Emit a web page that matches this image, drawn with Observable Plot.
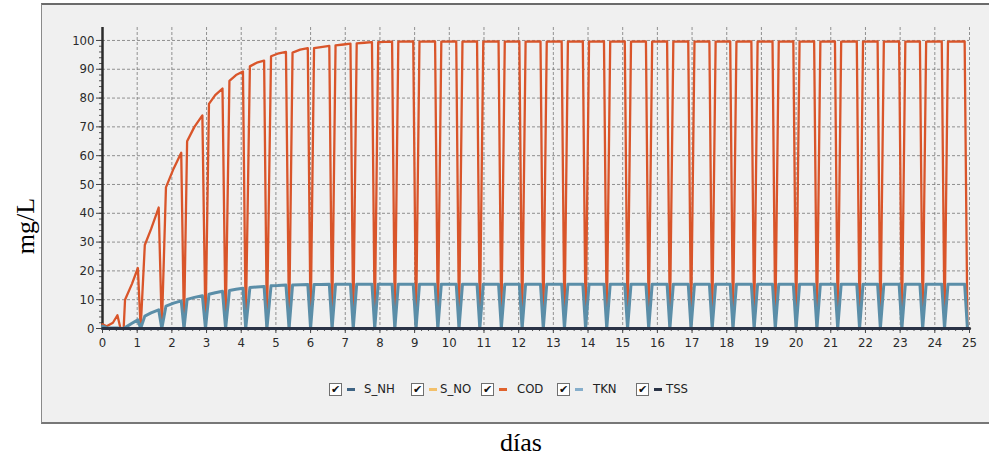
<!DOCTYPE html>
<html><head><meta charset="utf-8">
<script src="https://cdn.jsdelivr.net/npm/d3@7"></script>
<script src="https://cdn.jsdelivr.net/npm/@observablehq/plot@0.6"></script>
<style>
html,body{margin:0;padding:0;background:#fff;width:989px;height:457px;overflow:hidden;position:relative}
#panel{position:absolute;left:41px;top:3px;width:960px;height:417px;background:#f0f0f0;border-top:2px solid #6b6b6b;border-left:1px solid #8a8a8a;border-bottom:2px solid #777;}
#chart{position:absolute;left:0;top:0}
.lg{position:absolute;font:13px "DejaVu Sans Condensed","Liberation Sans Narrow","Liberation Sans",sans-serif;color:#222;line-height:14px}
.cb{position:absolute;width:11px;height:11px;border:1px solid #707070;background:#fff;font:11px "DejaVu Sans",sans-serif;line-height:11px;text-align:center;color:#111}
.dash{position:absolute;width:8px;height:3px}
#ylab{position:absolute;left:26px;top:226px;transform:translate(-50%,-50%) rotate(-90deg);font:26px "Liberation Serif","Times New Roman",serif;color:#000;white-space:nowrap}
#xlab{position:absolute;left:521px;top:428px;transform:translateX(-50%);font:26px "Liberation Serif","Times New Roman",serif;color:#000}
</style></head>
<body>
<div id="panel"></div>
<div id="chart"></div>
<div id="legend"></div>
<div id="ylab">mg/L</div>
<div id="xlab">días</div>
<script>
// ---- data ----
const dias = [
 0,0.12,0.3,0.43,0.52,0.61,
 0.65,0.85,1.02,1.1,
 1.22,1.4,1.62,1.71,
 1.83,2.05,2.27,2.35,
 2.44,2.65,2.88,2.97,
 3.07,3.25,3.46,3.55,
 3.66,3.85,4.05,4.13,
 4.25,4.45,4.66,4.74,
 4.86,5.05,5.29,5.38,
 5.48,5.7,5.92,6.0,
 6.1,6.3,6.54,6.62,
 6.72,6.95,7.15,7.23,
 7.33,7.55,7.77,7.85,
 7.95,8.35,8.43,
 8.53,8.96,9.04,
 9.14,9.59,9.67,
 9.77,10.2,10.28,
 10.38,10.8,10.88,
 10.98,11.42,11.5,
 11.6,12.02,12.1,
 12.2,12.63,12.71,
 12.81,13.24,13.32,
 13.42,13.85,13.93,
 14.03,14.46,14.54,
 14.64,15.06,15.14,
 15.24,15.67,15.75,
 15.85,16.28,16.36,
 16.46,16.89,16.97,
 17.07,17.5,17.58,
 17.68,18.1,18.18,
 18.28,18.71,18.79,
 18.89,19.32,19.4,
 19.5,19.92,20.0,
 20.1,20.52,20.6,
 20.7,21.12,21.2,
 21.3,21.75,21.83,
 21.93,22.35,22.43,
 22.53,22.97,23.05,
 23.15,23.57,23.65,
 23.75,24.2,24.28,
 24.38,24.86,24.94
];
const cod = [
 1.5,0.8,2.0,4.6,0,0,
 10,15.5,21,0,
 29,34.5,42,0,
 49,55.5,61,0,
 65,70,74,0,
 78,81,83.3,0,
 86,88,89.2,0,
 91,92.3,93,0,
 94.5,95.4,96,0,
 95.8,96.8,97.3,0,
 97.3,97.7,98.1,0,
 98.3,98.6,98.9,0,
 99.0,99.2,99.4,0,
 99.4,99.6,0,
 99.6,99.7,0, 99.6,99.7,0, 99.6,99.7,0, 99.6,99.7,0, 99.6,99.7,0,
 99.6,99.7,0, 99.6,99.7,0, 99.6,99.7,0, 99.6,99.7,0, 99.6,99.7,0,
 99.6,99.7,0, 99.6,99.7,0, 99.6,99.7,0, 99.6,99.7,0, 99.6,99.7,0,
 99.6,99.7,0, 99.6,99.7,0, 99.6,99.7,0, 99.6,99.7,0, 99.6,99.7,0,
 99.6,99.7,0, 99.6,99.7,0, 99.6,99.7,0, 99.6,99.7,0, 99.6,99.7,0,
 99.6,99.7,0, 99.6,99.7,0
];
const tkn = [
 0.8,0.3,0.2,0.2,0,0,
 0.3,1.8,3.0,0,
 4.3,5.4,6.5,0,
 7.8,8.8,9.6,0,
 10.1,10.8,11.4,0,
 11.9,12.4,12.9,0,
 13.2,13.6,14.0,0,
 14.2,14.4,14.6,0,
 14.8,14.9,15.1,0,
 15.1,15.2,15.3,0,
 15.3,15.3,15.4,0,
 15.4,15.4,15.4,0,
 15.4,15.4,15.4,0,
 15.4,15.4,0,
 15.4,15.4,0, 15.4,15.4,0, 15.4,15.4,0, 15.4,15.4,0, 15.4,15.4,0,
 15.4,15.4,0, 15.4,15.4,0, 15.4,15.4,0, 15.4,15.4,0, 15.4,15.4,0,
 15.4,15.4,0, 15.4,15.4,0, 15.4,15.4,0, 15.4,15.4,0, 15.4,15.4,0,
 15.4,15.4,0, 15.4,15.4,0, 15.4,15.4,0, 15.4,15.4,0, 15.4,15.4,0,
 15.4,15.4,0, 15.4,15.4,0, 15.4,15.4,0, 15.4,15.4,0, 15.4,15.4,0,
 15.4,15.4,0, 15.4,15.4,0
];
const flatT = [0, 25];
const sNH = [0, 0];
const sNO = [0, 0];
const tss = [0, 0];
const xTicks = [0,1,2,3,4,5,6,7,8,9,10,11,12,13,14,15,16,17,18,19,20,21,22,23,24,25];
const yTicks = [0,10,20,30,40,50,60,70,80,90,100];
const seriesNames = ["S_NH","S_NO","COD","TKN","TSS"];
const legendColors = ["#3f6484","#f3c06a","#e0622c","#86aecb","#2a3346"];

// ---- build tables ----
const codData = dias.map((d,i)=>({d, v: cod[i]}));
const tknData = dias.map((d,i)=>({d, v: tkn[i]}));
const flat = (vals)=>flatT.map((d,i)=>({d, v: vals[i]}));
const minorX = d3.range(0, 25.001, 0.2);
const minorY = d3.range(0, 100.001, 2);

const fontFam = '"DejaVu Sans Condensed","Liberation Sans Narrow","Liberation Sans",sans-serif';
const chart = Plot.plot({
  width: 989, height: 362,
  marginLeft: 102, marginRight: 20, marginTop: 27, marginBottom: 34,
  style: {background: "transparent", fontSize: "13px", fontFamily: fontFam, color: "#2a2a2a", overflow: "visible"},
  x: {domain: [0, 25], axis: null, label: null},
  y: {domain: [0, 104.5], axis: null, label: null},
  marks: [
    Plot.gridX(xTicks, {stroke: "#777", strokeOpacity: 1, strokeWidth: 0.8, strokeDasharray: "3,2"}),
    Plot.gridY(yTicks, {stroke: "#777", strokeOpacity: 1, strokeWidth: 0.8, strokeDasharray: "3,2"}),
    Plot.axisX(minorX, {tickSize: 3, tickFormat: () => "", label: null, stroke: "#555"}),
    Plot.axisY(minorY, {tickSize: 3, tickFormat: () => "", label: null, stroke: "#555"}),
    Plot.axisX(xTicks, {tickSize: 5, tickPadding: 4, label: null, stroke: "#444", fill: "#2a2a2a"}),
    Plot.axisY(yTicks, {tickSize: 6, tickPadding: 2, label: null, stroke: "#444", fill: "#2a2a2a"}),
    Plot.ruleX([0], {stroke: "#2b2b2b", strokeWidth: 2.5}),
    Plot.line(flat(sNH), {x: "d", y: "v", stroke: legendColors[0], strokeWidth: 3}),
    Plot.line(flat(sNO), {x: "d", y: "v", stroke: legendColors[1], strokeWidth: 3}),
    Plot.line(codData, {x: "d", y: "v", stroke: "#d9552a", strokeWidth: 2.3, curve: "linear"}),
    Plot.line(tknData, {x: "d", y: "v", stroke: "#5b8ea8", strokeWidth: 3, curve: "linear"}),
    Plot.line(flat(tss), {x: "d", y: "v", stroke: legendColors[4], strokeWidth: 3})
  ]
});
document.getElementById("chart").appendChild(chart);

// ---- legend ----
const cbX = [329, 411, 481, 557, 636];
const textX = [364, 440, 517, 593, 666];
const lg = document.getElementById("legend");
seriesNames.forEach((name, i) => {
  const cb = document.createElement("div");
  cb.className = "cb"; cb.style.left = cbX[i] + "px"; cb.style.top = "383px"; cb.textContent = "✔";
  lg.appendChild(cb);
  const dash = document.createElement("div");
  dash.className = "dash"; dash.style.left = (cbX[i] + 18) + "px"; dash.style.top = "388px"; dash.style.background = legendColors[i];
  lg.appendChild(dash);
  const t = document.createElement("div");
  t.className = "lg"; t.style.left = textX[i] + "px"; t.style.top = "382px"; t.textContent = name;
  lg.appendChild(t);
});
</script>
</body></html>
